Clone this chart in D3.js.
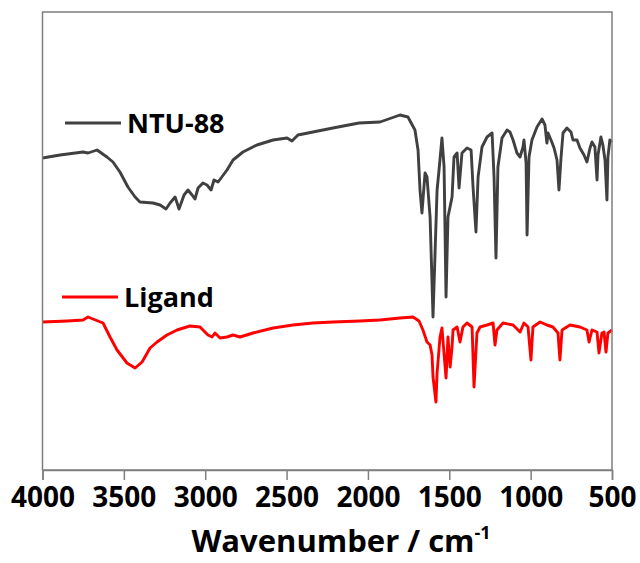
<!DOCTYPE html>
<html>
<head>
<meta charset="utf-8">
<title>FTIR spectra</title>
<style>
    body { margin: 0; background: #fff; }
    svg text { font-family: "Open Sans", sans-serif; font-weight: bold; fill: #000; }
    .curve { fill: none; stroke-width: 2.9px; stroke-linejoin: round; }
</style>
<script src="https://cdn.jsdelivr.net/npm/d3@7"></script>
</head>
<body>
<script>
    // wavenumbers (cm-1) and transmittance (a.u.)
    var ntuWn = [4000, 3892, 3751, 3720, 3665, 3604, 3567, 3524, 3475, 3431, 3401, 3321, 3277, 3241, 3216, 3185, 3161, 3130, 3106, 3081, 3063, 3044, 3014, 2989, 2964, 2946, 2921, 2866, 2829, 2768, 2682, 2583, 2497, 2467, 2430, 2338, 2215, 2055, 1926, 1803, 1754, 1711, 1692, 1680, 1668, 1649, 1637, 1618, 1600, 1575, 1563, 1545, 1532, 1520, 1508, 1483, 1471, 1452, 1440, 1422, 1391, 1366, 1354, 1336, 1323, 1299, 1268, 1237, 1225, 1213, 1201, 1176, 1145, 1127, 1108, 1084, 1065, 1047, 1041, 1028, 1022, 1010, 992, 961, 930, 912, 900, 893, 875, 856, 838, 826, 813, 801, 777, 752, 740, 715, 697, 672, 654, 635, 623, 605, 592, 586, 568, 556, 543, 531, 525, 513, 500];
    var ntuT = [312, 315, 318, 317, 320, 313, 308, 298, 283, 273, 268, 267, 265, 261, 267, 273, 261, 275, 280, 275, 271, 282, 287, 285, 280, 290, 288, 300, 310, 318, 325, 330, 332, 329, 335, 338, 342, 347, 348, 355, 353, 340, 320, 280, 257, 297, 293, 253, 153, 280, 300, 332, 303, 173, 253, 273, 313, 317, 282, 317, 322, 320, 283, 238, 293, 323, 333, 337, 293, 212, 303, 332, 340, 338, 330, 317, 313, 323, 330, 307, 235, 313, 330, 343, 351, 345, 327, 337, 330, 322, 310, 280, 313, 337, 342, 338, 330, 330, 322, 315, 308, 322, 328, 323, 290, 315, 333, 325, 310, 270, 313, 330, 328];

    var ligWn = [4000, 3849, 3751, 3720, 3690, 3628, 3585, 3542, 3481, 3431, 3388, 3339, 3296, 3235, 3173, 3094, 3032, 2983, 2958, 2940, 2909, 2866, 2829, 2786, 2706, 2583, 2460, 2338, 2215, 2049, 1926, 1803, 1723, 1686, 1662, 1637, 1618, 1606, 1600, 1582, 1575, 1557, 1545, 1539, 1520, 1508, 1495, 1483, 1477, 1452, 1434, 1416, 1391, 1360, 1348, 1330, 1311, 1268, 1231, 1219, 1207, 1170, 1108, 1065, 1041, 1016, 998, 986, 942, 900, 863, 832, 820, 807, 758, 697, 654, 641, 623, 592, 580, 562, 549, 537, 525, 500];
    var ligT = [148, 149, 150, 153, 151, 147, 133, 120, 107, 102, 108, 122, 128, 135, 140, 144, 143, 135, 133, 137, 132, 133, 135, 133, 137, 142, 145, 147, 148, 149, 150, 152, 153, 149, 140, 128, 125, 115, 93, 68, 97, 133, 142, 130, 92, 133, 103, 123, 140, 143, 128, 143, 147, 143, 83, 137, 143, 145, 147, 125, 140, 147, 145, 138, 147, 143, 110, 143, 148, 145, 143, 137, 110, 140, 145, 143, 140, 128, 140, 138, 117, 137, 138, 118, 137, 140];

    var xTicks = [4000, 3500, 3000, 2500, 2000, 1500, 1000, 500];
    var seriesNames = ["NTU-88", "Ligand"];
    var seriesColors = ["#404040", "#ff0000"];

    var w = 640;
    var h = 563;
    var margin = { top: 12, right: 28, bottom: 93, left: 42.5 };
    var iw = w - margin.left - margin.right;
    var ih = h - margin.top - margin.bottom;

    var svg = d3.select("body").append("svg")
        .attr("width", w)
        .attr("height", h);

    var g = svg.append("g")
        .attr("transform", "translate(" + margin.left + "," + margin.top + ")");

    var x = d3.scaleLinear().domain([4000, 500]).range([0, iw]);
    var y = d3.scaleLinear().domain([0, 458]).range([ih, 0]);

    var line = d3.line()
        .x(function (d) { return x(d[0]); })
        .y(function (d) { return y(d[1]); });

    var series = [d3.zip(ntuWn, ntuT), d3.zip(ligWn, ligT)];

    g.selectAll("path.curve")
        .data(series)
        .enter()
        .append("path")
        .attr("class", "curve")
        .attr("d", line)
        .style("stroke", function (d, i) { return seriesColors[i]; });

    // frame
    g.append("rect")
        .attr("width", iw)
        .attr("height", ih)
        .style("fill", "none")
        .style("stroke", "#7f7f7f")
        .style("stroke-width", 1.5);

    var xAxis = g.append("g")
        .attr("transform", "translate(0," + ih + ")")
        .call(d3.axisBottom(x).tickValues(xTicks).tickSize(10).tickPadding(7).tickFormat(d3.format("d")));
    xAxis.select(".domain").style("stroke", "#7f7f7f").style("stroke-width", 1.5);
    xAxis.selectAll(".tick line").style("stroke", "#7f7f7f").style("stroke-width", 1.5);
    xAxis.selectAll(".tick text")
        .style("font-family", "'Open Sans', sans-serif")
        .style("font-weight", "bold")
        .style("font-size", "28px")
        .style("fill", "#000");

    // axis title
    var title = svg.append("text")
        .attr("x", 341)
        .attr("y", 552)
        .attr("text-anchor", "middle")
        .style("font-size", "31px");
    title.append("tspan").text("Wavenumber / cm");
    title.append("tspan")
        .attr("dy", -13)
        .style("font-size", "18px")
        .text("-1");

    // legend
    var legendPos = [[65, 123], [62, 297]];
    var legend = svg.selectAll("g.legend")
        .data(seriesNames)
        .enter()
        .append("g")
        .attr("class", "legend")
        .attr("transform", function (d, i) { return "translate(" + legendPos[i][0] + "," + legendPos[i][1] + ")"; });
    legend.append("line")
        .attr("x1", 0).attr("x2", 56)
        .style("stroke", function (d, i) { return seriesColors[i]; })
        .style("stroke-width", 3);
    legend.append("text")
        .attr("x", 62)
        .attr("dy", "0.36em")
        .style("font-size", "27px")
        .text(function (d) { return d; });
</script>
</body>
</html>
